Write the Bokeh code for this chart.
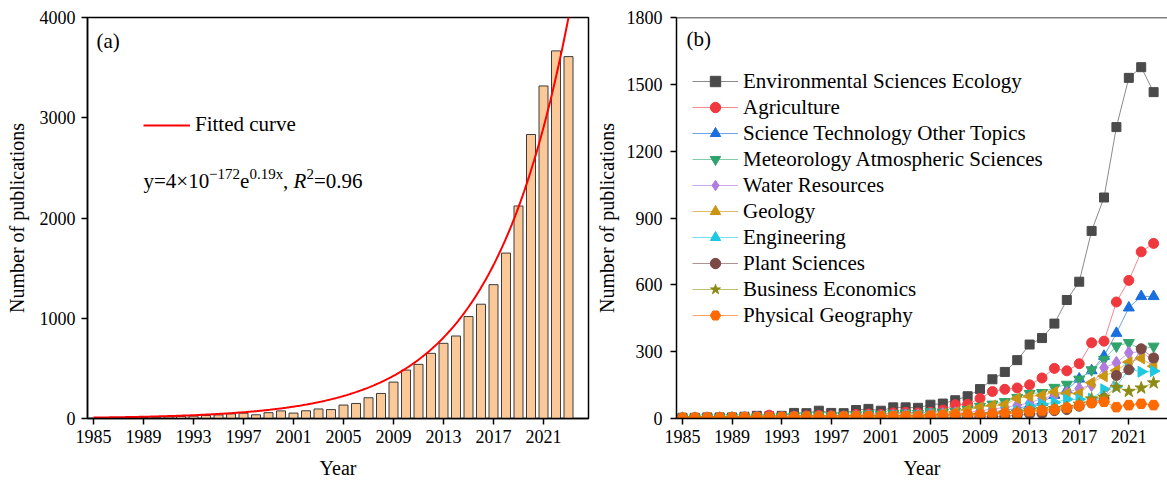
import numpy as np
from bokeh.plotting import figure
from bokeh.layouts import row
from bokeh.models import Range1d, FixedTicker, Legend, LegendItem, Label, Span
from bokeh.embed import file_html
from bokeh.resources import INLINE

# ---------------------------------------------------------------- data
years = list(range(1985, 2024))

total_publications = [
    3, 5, 6, 8, 9, 12, 16, 20, 24, 30,
    36, 46, 53, 37, 58, 76, 54, 77, 95, 89,
    134, 150, 207, 250, 363, 483, 540, 650, 750, 823,
    1017, 1140, 1335, 1650, 2120, 2833, 3317, 3667, 3610,
]

# exponential trend drawn over the yearly totals
fit_value_1985 = 9.15
fit_rate = 0.16

env_ecology = [
    3, 3, 5, 5, 5, 8, 12, 10, 12, 25,
    24, 35, 25, 24, 38, 43, 35, 50, 50, 48,
    62, 67, 82, 100, 132, 176, 209, 262, 332, 361,
    426, 532, 614, 842, 992, 1308, 1529, 1577, 1465,
]
agriculture = [
    2, 3, 3, 4, 4, 6, 8, 15, 8, 10,
    12, 14, 12, 10, 18, 20, 18, 25, 28, 25,
    28, 38, 62, 64, 90, 121, 131, 137, 151, 182,
    225, 214, 246, 340, 347, 523, 620, 748, 786,
]
sci_tech = [
    0, 0, 1, 1, 1, 1, 2, 2, 2, 3,
    3, 4, 4, 3, 5, 6, 5, 7, 8, 7,
    10, 12, 15, 18, 25, 30, 38, 45, 58, 72,
    105, 128, 178, 215, 280, 383, 497, 548, 548,
]
meteorology = [
    2, 2, 3, 3, 4, 5, 6, 5, 8, 10,
    12, 14, 12, 12, 16, 20, 18, 22, 24, 22,
    30, 28, 32, 40, 54, 64, 75, 94, 112, 116,
    139, 153, 176, 218, 265, 325, 340, 310, 324,
]
water_resources = [
    1, 1, 1, 2, 2, 2, 3, 3, 4, 5,
    5, 6, 6, 6, 8, 10, 9, 12, 14, 14,
    18, 20, 24, 28, 34, 42, 49, 60, 69, 90,
    104, 116, 134, 150, 228, 250, 295, 300, 258,
]
geology = [
    1, 1, 2, 2, 2, 3, 3, 4, 4, 5,
    6, 6, 6, 7, 8, 9, 9, 10, 12, 12,
    15, 20, 28, 40, 50, 58, 62, 90, 100, 104,
    119, 112, 112, 161, 190, 215, 253, 270, 235,
]
engineering = [
    0, 0, 0, 1, 1, 1, 1, 2, 2, 2,
    3, 3, 3, 4, 4, 5, 5, 6, 6, 7,
    8, 9, 12, 14, 18, 22, 28, 34, 54, 64,
    72, 86, 86, 89, 131, 143, 222, 210, 213,
]
plant_sciences = [
    0, 0, 0, 0, 0, 1, 1, 1, 1, 1,
    1, 2, 2, 2, 2, 2, 3, 3, 3, 3,
    4, 4, 5, 6, 7, 8, 10, 15, 20, 22,
    35, 40, 55, 70, 90, 193, 219, 313, 272,
]
business_economics = [
    0, 0, 0, 0, 1, 1, 1, 1, 1, 2,
    2, 2, 2, 3, 3, 4, 4, 5, 5, 6,
    7, 8, 10, 12, 15, 18, 22, 28, 35, 40,
    45, 50, 64, 88, 96, 140, 122, 137, 160,
]
physical_geography = [
    3, 3, 4, 4, 4, 5, 5, 6, 6, 7,
    7, 8, 8, 8, 9, 10, 9, 10, 10, 10,
    12, 15, 18, 18, 18, 22, 25, 25, 33, 36,
    40, 48, 58, 70, 75, 51, 60, 66, 60,
]

category_names = [
    "Environmental Sciences Ecology",
    "Agriculture",
    "Science Technology Other Topics",
    "Meteorology Atmospheric Sciences",
    "Water Resources",
    "Geology",
    "Engineering",
    "Plant Sciences",
    "Business Economics",
    "Physical Geography",
]

year_ticks = list(range(1985, 2024, 4))
left_y_ticks = [0, 1000, 2000, 3000, 4000]
right_y_ticks = [0, 300, 600, 900, 1200, 1500, 1800]

# ---------------------------------------------------------------- styling
FONT = "Liberation Serif"


def text_label(p, x, y, text, size="21px", style="normal", align="left"):
    p.add_layout(Label(x=x, y=y, x_units="screen", y_units="screen", text=text,
                       text_font=FONT, text_font_size=size, text_font_style=style,
                       text_color="black", text_baseline="middle", text_align=align))


def style_axes(p, yticks, ylabel_standoff, ytick_standoff):
    p.xgrid.grid_line_color = None
    p.ygrid.grid_line_color = None
    p.xaxis.ticker = FixedTicker(ticks=year_ticks)
    p.yaxis.ticker = FixedTicker(ticks=yticks)
    p.xaxis.axis_label = "Year"
    p.yaxis.axis_label = "Number of publications"
    for ax in (p.xaxis[0], p.yaxis[0]):
        ax.axis_line_width = 1.5
        ax.axis_line_color = "black"
        ax.major_tick_line_width = 1.5
        ax.major_tick_line_color = "black"
        ax.major_tick_out = 6
        ax.major_tick_in = 0
        ax.minor_tick_line_color = None
        ax.major_label_text_font = FONT
        ax.major_label_text_font_size = "18px"
        ax.major_label_text_color = "black"
        ax.axis_label_text_font = FONT
        ax.axis_label_text_font_size = "20px"
        ax.axis_label_text_font_style = "normal"
        ax.axis_label_text_color = "black"
    p.xaxis.major_label_standoff = 5
    p.xaxis.axis_label_standoff = 11
    p.yaxis.major_label_standoff = ytick_standoff
    p.yaxis.axis_label_standoff = ylabel_standoff


# ---------------------------------------------------------------- (a) totals
p1 = figure(width=592, height=481, x_range=Range1d(1984.52, 2024.6),
            y_range=Range1d(0, 4000), output_backend="svg", toolbar_location=None,
            min_border_left=87, min_border_right=4, min_border_top=17,
            min_border_bottom=63)
style_axes(p1, left_y_ticks, ylabel_standoff=9, ytick_standoff=6)
p1.outline_line_color = "black"
p1.outline_line_width = 1.5

p1.vbar(x=years, top=total_publications, width=0.72, fill_color="#FBC898",
        line_color="#3c3c3c", line_width=1)

fit_x = np.linspace(1985, 2024.6, 400)
fit_y = fit_value_1985 * np.exp(fit_rate * (fit_x - 1985))
curve = p1.line(fit_x, fit_y, line_color="#FF0000", line_width=2)

legend_a = Legend(items=[LegendItem(label="Fitted curve", renderers=[curve])],
                  location=(56, 281), glyph_width=47, glyph_height=24,
                  label_height=24, label_standoff=5, padding=0, margin=0,
                  spacing=0, border_line_color=None, background_fill_alpha=0,
                  label_text_font=FONT, label_text_font_size="21px",
                  label_text_color="black")
p1.add_layout(legend_a)

text_label(p1, 9, 378, "(a)")

# fitted equation, built from pieces so the exponents sit raised
eq_y = 238
sup_y = eq_y + 7
text_label(p1, 56, eq_y, "y=4×10")
text_label(p1, 121.5, sup_y, "−172", size="15px")
text_label(p1, 152.5, eq_y, "e")
text_label(p1, 162, sup_y, "0.19x", size="15px")
text_label(p1, 195.5, eq_y, ",")
text_label(p1, 206, eq_y, "R", style="italic")
text_label(p1, 219, sup_y, "2", size="15px")
text_label(p1, 226.5, eq_y, "=0.96")

# ---------------------------------------------------------------- (b) categories
p2 = figure(width=575, height=481, x_range=Range1d(1984.52, 2024.12),
            y_range=Range1d(0, 1800), output_backend="svg", toolbar_location=None,
            min_border_left=80, min_border_right=0, min_border_top=17,
            min_border_bottom=63)
style_axes(p2, right_y_ticks, ylabel_standoff=6, ytick_standoff=8)
p2.outline_line_color = None
p2.add_layout(Span(location=1800, dimension="width", line_color="black",
                   line_width=1.5))

category_values = [
    env_ecology, agriculture, sci_tech, meteorology, water_resources,
    geology, engineering, plant_sciences, business_economics, physical_geography,
]
marker_styles = [
    ("square", "#4a4a4a", "#8a8a8a", 9, 0.0),
    ("circle", "#F0383F", "#F08A8E", 10, 0.0),
    ("triangle", "#1A6FDF", "#6FA2EA", 11, 0.0),
    ("inverted_triangle", "#2FA36B", "#84CBA8", 11, 0.0),
    ("diamond", "#B07CE0", "#CDA9EC", 13, 0.0),
    ("triangle", "#CC9511", "#DDB869", 11, np.pi / 2),
    ("triangle", "#1CC9E0", "#76DDEB", 11, -np.pi / 2),
    ("circle", "#7B4A45", "#B09290", 10, 0.0),
    ("star", "#8C8C14", "#BEBE74", 13, 0.0),
    ("hex", "#FF6A00", "#FFA567", 11, 0.0),
]

legend_items = []
for name, vals, (marker, color, line_col, size, angle) in zip(
        category_names, category_values, marker_styles):
    ln = p2.line(years, vals, line_color=line_col, line_width=1)
    sc = p2.scatter(years, vals, marker=marker, size=size, angle=angle,
                    fill_color=color, line_color=color)
    legend_items.append(LegendItem(label=name, renderers=[ln, sc]))

legend_b = Legend(items=legend_items, location=(16, 90), glyph_width=46,
                  glyph_height=26, label_height=26, label_standoff=5, padding=0,
                  margin=0, spacing=0, border_line_color=None,
                  background_fill_alpha=0, label_text_font=FONT,
                  label_text_font_size="21px", label_text_color="black")
p2.add_layout(legend_b)

text_label(p2, 10, 380, "(b)")

layout = row(p1, p2)
open("out.html", "w").write(file_html(layout, INLINE))
